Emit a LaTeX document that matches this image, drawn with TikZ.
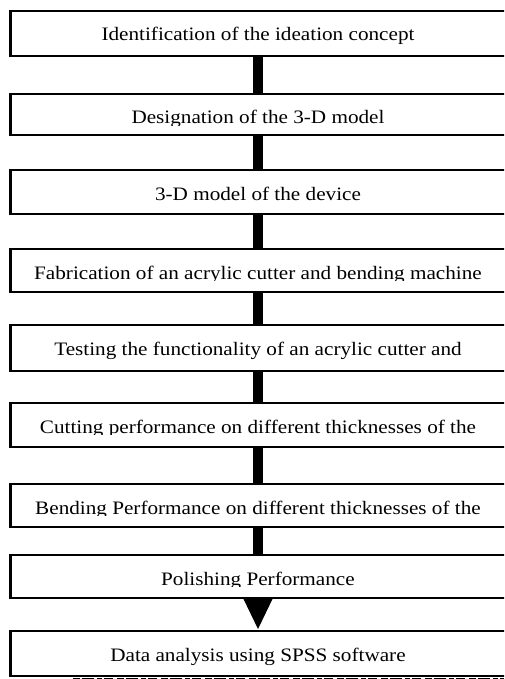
\documentclass[tikz,border=0pt]{standalone}
\usepackage{fontspec}
\setmainfont{Liberation Serif}[FakeStretch=1.115]
\usetikzlibrary{calc}

% #1 name, #2 top, #3 bottom, #4 label
\newcommand\stageplain[4]{%
  \node[stagebox, minimum height={(#3-#2)*1pt}, anchor=west] (#1) at (10.5,{(#2+#3)/2}) {};
  \node[stagetext] (#1t) at (258,{#2+30}) {#4};
}
% same, but the label is cut off just below its baseline
\newcommand\stageclipped[4]{%
  \node[stagebox, minimum height={(#3-#2)*1pt}, anchor=west] (#1) at (10.5,{(#2+#3)/2}) {};
  \begin{scope}
    \clip (#1.north west) rectangle ($(#1.north east)+(0,31.5)$);
    \node[stagetext] (#1t) at (258,{#2+30}) {#4};
  \end{scope}
}

\begin{document}
\begin{tikzpicture}[x=1pt,y=-1pt,
  stagebox/.style={rectangle, draw=black, line width=2.4pt, minimum width=520pt,
    inner sep=0pt, outer sep=0pt},
  stagetext/.style={anchor=base, inner sep=0pt, font=\fontsize{19}{22}\selectfont},
  bar/.style={draw=black, line width=9.5pt},
]
\useasboundingbox (0,0) rectangle (504,679);
\clip (0,0) rectangle (504,679);

\stageplain{b1}{11}{56}{Identification of the ideation concept}
\stageclipped{b2}{94}{135}{Designation of the 3-D model}
\stageplain{b3}{170}{214}{3-D model of the device}
\stageclipped{b4}{249}{292}{Fabrication of an acrylic cutter and bending machine}
\stageplain{b5}{325}{371}{Testing the functionality of an acrylic cutter and}
\stageclipped{b6}{403}{447}{Cutting performance on different thicknesses of the}
\stageclipped{b7}{484}{527}{Bending Performance on different thicknesses of the}
\stageclipped{b8}{555}{598}{Polishing Performance}
\stageplain{b9}{631}{676}{Data analysis using SPSS software}

% thick connectors between the stages, on the common axis x = 258
\draw[bar] (b1.south west -| b1t) -- (b2.north west -| b1t);
\draw[bar] (b2.south west -| b1t) -- (b3.north west -| b1t);
\draw[bar] (b3.south west -| b1t) -- (b4.north west -| b1t);
\draw[bar] (b4.south west -| b1t) -- (b5.north west -| b1t);
\draw[bar] (b5.south west -| b1t) -- (b6.north west -| b1t);
\draw[bar] (b6.south west -| b1t) -- (b7.north west -| b1t);
\draw[bar] (b7.south west -| b1t) -- (b8.north west -| b1t);

% final step: solid triangular arrow
\coordinate (tip) at ($(b9.north west -| b1t)+(0,-2)$);
\fill[black] ($(b8.south west -| b1t)+(-15,0)$) -- ($(b8.south west -| b1t)+(15,0)$) -- (tip) -- cycle;

% top edge of the caption line below the chart
\coordinate (capl) at (73,678.6);
\coordinate (capr) at (504,678.6);
\draw[black, line width=1.6pt,
  dash pattern=on 7pt off 2pt on 12pt off 3pt on 5pt off 2pt on 9pt off 4pt]
  (capl) -- (capr);
\end{tikzpicture}
\end{document}
